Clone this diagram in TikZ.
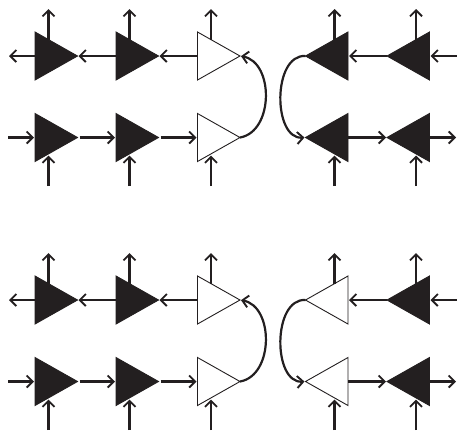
\documentclass[tikz,border=0pt]{standalone}
\usetikzlibrary{arrows.meta,shapes.geometric,calc}
\definecolor{ink}{HTML}{231F20}
\tikzset{
  tribase/.style={shape=isosceles triangle,isosceles triangle stretches,draw=ink,line width=0.9bp,inner sep=0pt,minimum height=42.5bp,minimum width=48bp,outer sep=0pt},
  trir/.style={tribase,shape border rotate=0,anchor=lower side},
  tril/.style={tribase,shape border rotate=180,anchor=lower side},
  solid tri/.style={fill=ink},
  open tri/.style={fill=white},
  conn/.style={draw=ink,line width=2.2bp,-{Straight Barb[length=6bp,width=12bp,line width=1.9bp]},shorten >=1bp},
  loopc/.style={conn,line width=2.2bp}
}
% name, base x, y, kind
\newcommand{\tr}[4]{%
  \node[trir,#4] (#1) at (#2,#3) {};
  \coordinate (#1u) at ($(#1.lower side)+(13.5,-16)$);
  \coordinate (#1d) at ($(#1.lower side)+(13.5,17)$);
  \coordinate (#1uf) at ($(#1.lower side)+(13.5,-48)$);
  \coordinate (#1df) at ($(#1.lower side)+(13.5,48.5)$);
}
\newcommand{\tl}[4]{%
  \node[tril,#4] (#1) at (#2,#3) {};
  \coordinate (#1u) at ($(#1.lower side)+(-13.5,-16)$);
  \coordinate (#1d) at ($(#1.lower side)+(-13.5,17)$);
  \coordinate (#1uf) at ($(#1.lower side)+(-13.5,-48)$);
  \coordinate (#1df) at ($(#1.lower side)+(-13.5,48.5)$);
}
% one block of two rows, offset y
\newcommand{\block}[3]{%
  \tr{a#1}{35}{#2}{solid tri}
  \tr{b#1}{116}{#2}{solid tri}
  \tr{c#1}{197.5}{#2}{open tri}
  \tr{d#1}{35}{#2+81.5}{solid tri}
  \tr{e#1}{116}{#2+81.5}{solid tri}
  \tr{f#1}{197.5}{#2+81.5}{open tri}
  \tl{g#1}{348}{#2}{#3}
  \tl{h#1}{429.5}{#2}{solid tri}
  \tl{i#1}{348}{#2+81.5}{#3}
  \tl{j#1}{429.5}{#2+81.5}{solid tri}
  % free ends
  \coordinate (aw#1) at (8,#2);
  \coordinate (dw#1) at (8,#2+81.5);
  \coordinate (he#1) at (457,#2);
  \coordinate (je#1) at (457,#2+81.5);
  % top row arrows
  \draw[conn] (c#1.lower side) -- (b#1.apex);
  \draw[conn] (b#1.lower side) -- (a#1.apex);
  \draw[conn] (a#1.lower side) -- (aw#1);
  \draw[conn] (he#1) -- (h#1.lower side);
  \draw[conn] (h#1.apex) -- (g#1.lower side);
  % bottom row arrows
  \draw[conn] (dw#1) -- (d#1.lower side);
  \draw[conn,shorten <=2bp] (d#1.apex) -- (e#1.lower side);
  \draw[conn,shorten <=2bp] (e#1.apex) -- (f#1.lower side);
  \draw[conn] (i#1.lower side) -- (j#1.apex);
  \draw[conn] (j#1.lower side) -- (je#1);
  % verticals
  \foreach \n in {a,b,c,g,h} {\draw[conn] (\n#1u) -- (\n#1uf);}
  \foreach \n in {d,e,f,i,j} {\draw[conn] (\n#1df) -- (\n#1d);}
  % loops
  \draw[loopc] (f#1.apex) .. controls +(34,-6) and ($(c#1.apex)+(34,6)$) .. (c#1.apex);
  \draw[loopc] (g#1.apex) .. controls +(-33,-2) and ($(i#1.apex)+(-33,2)$) .. (i#1.apex);
}
\begin{document}
\begin{tikzpicture}[x=1bp,y=-1bp]
\useasboundingbox (0,0) rectangle (457,431);
\block{p}{56}{solid tri}
\block{q}{300}{open tri}
\end{tikzpicture}
\end{document}
